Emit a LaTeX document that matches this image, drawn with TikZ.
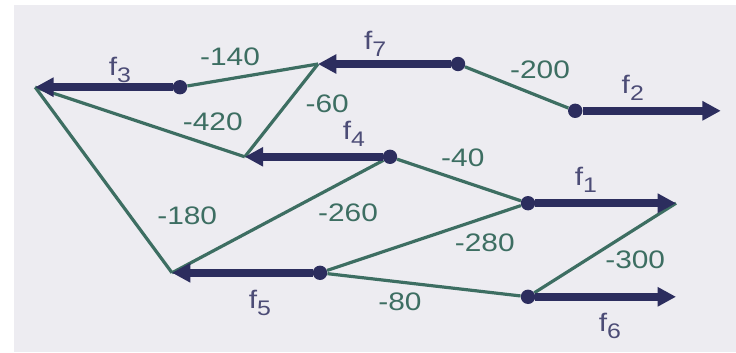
\documentclass[tikz,border=0pt]{standalone}
\usepackage{fontspec}
\setmainfont{Liberation Sans}[FakeStretch=1.18]
\usepackage{tikz}
\usetikzlibrary{arrows.meta}

\definecolor{flownavy}{HTML}{2C2D5E}
\definecolor{costgreen}{HTML}{3D6E62}
\definecolor{panelgray}{HTML}{EDECF1}

\newcommand{\flab}[1]{f\raisebox{-5pt}{\fontsize{15}{15}\selectfont #1}}

\begin{document}
\begin{tikzpicture}[
  font=\fontsize{18}{20}\selectfont,
  dotnode/.style={circle, fill=flownavy, minimum size=0.36cm, inner sep=0pt},
  flowarrow/.style={-{Triangle[length=0.46cm,width=0.46cm]}, draw=flownavy, line width=0.19cm},
  costline/.style={draw=costgreen, line width=0.08cm},
  flowlab/.style={text=flownavy!85!white, inner sep=0pt},
  costlab/.style={text=costgreen, inner sep=0pt}
]
  \useasboundingbox (0,0) rectangle (18.40,8.80);
  \fill[panelgray] (0.35,0) rectangle (18.40,8.68);

  % tails (dots) and heads of the flows
  \node[dotnode] (d3) at (4.50,6.62) {};
  \coordinate (t3) at (0.88,6.62);
  \node[dotnode] (d7) at (11.45,7.20) {};
  \coordinate (t7) at (7.95,7.20);
  \node[dotnode] (d2) at (14.38,6.03) {};
  \coordinate (t2) at (18.02,6.03);
  \node[dotnode] (d4) at (9.75,4.88) {};
  \coordinate (t4) at (6.12,4.88);
  \node[dotnode] (d1) at (13.20,3.72) {};
  \coordinate (t1) at (16.90,3.72);
  \node[dotnode] (d6) at (13.20,1.38) {};
  \coordinate (t6) at (16.90,1.38);
  \node[dotnode] (d5) at (8.00,1.98) {};
  \coordinate (t5) at (4.30,1.98);

  % costs
  \draw[costline] (d3) -- (t7);
  \draw[costline] (d7) -- (d2);
  \draw[costline] (t3) -- (t4);
  \draw[costline] (t4) -- (t7);
  \draw[costline] (t3) -- (t5);
  \draw[costline] (t5) -- (d4);
  \draw[costline] (d4) -- (d1);
  \draw[costline] (d5) -- (d1);
  \draw[costline] (d5) -- (d6);
  \draw[costline] (d6) -- (t1);

  % flows
  \draw[flowarrow] (d3) -- (t3);
  \draw[flowarrow] (d7) -- (t7);
  \draw[flowarrow] (d2) -- (t2);
  \draw[flowarrow] (d4) -- (t4);
  \draw[flowarrow] (d1) -- (t1);
  \draw[flowarrow] (d6) -- (t6);
  \draw[flowarrow] (d5) -- (t5);

  \node[flowlab] (lf3) at (3.00,7.05) {\flab{3}};
  \node[flowlab] (lf7) at (9.38,7.70) {\flab{7}};
  \node[flowlab] (lf2) at (15.82,6.60) {\flab{2}};
  \node[flowlab] (lf4) at (8.85,5.46) {\flab{4}};
  \node[flowlab] (lf1) at (14.65,4.30) {\flab{1}};
  \node[flowlab] (lf5) at (6.50,1.22) {\flab{5}};
  \node[flowlab] (lf6) at (15.25,0.65) {\flab{6}};

  \node[costlab] (c140) at (5.75,7.38) {-140};
  \node[costlab] (c200) at (13.50,7.05) {-200};
  \node[costlab] (c420) at (5.32,5.75) {-420};
  \node[costlab] (c60) at (8.18,6.20) {-60};
  \node[costlab] (c40) at (11.57,4.85) {-40};
  \node[costlab] (c180) at (4.68,3.40) {-180};
  \node[costlab] (c260) at (8.70,3.48) {-260};
  \node[costlab] (c280) at (12.12,2.72) {-280};
  \node[costlab] (c300) at (15.88,2.30) {-300};
  \node[costlab] (c80) at (10.00,1.25) {-80};
\end{tikzpicture}
\end{document}
